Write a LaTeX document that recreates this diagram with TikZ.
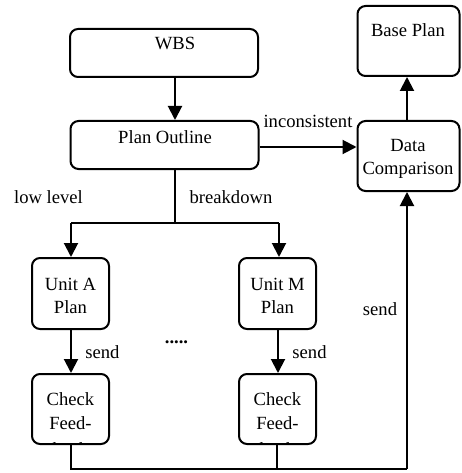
\documentclass[tikz,border=0pt]{standalone}
\usepackage{fontspec}
\setmainfont{Liberation Serif}
\usetikzlibrary{arrows.meta}
\begin{document}
\begin{tikzpicture}[x=1pt,y=-1pt,
  box/.style={draw,line width=2pt,rounded corners=8pt,inner sep=0pt},
  txt/.style={anchor=base,inner sep=0pt,font=\fontsize{18.6}{22}\selectfont},
  lnk/.style={line width=2pt},
  arr/.style={line width=2pt,-{Triangle[length=14pt,width=14pt]}}]
\useasboundingbox (0,0) rectangle (461,473);
% clipped third lines of the feedback boxes
\begin{scope}
\clip (33,375) rectangle (108,443);
\node[txt] (tca3) at (70.5,455) {back};
\end{scope}
\begin{scope}
\clip (240,375) rectangle (315,443);
\node[txt] (tcm3) at (277.5,455) {back};
\end{scope}
% boxes
\node[box,minimum width=188pt,minimum height=48pt] (wbs) at (164,53) {};
\node[box,minimum width=188pt,minimum height=48pt] (po) at (164.5,145) {};
\node[box,minimum width=102pt,minimum height=70pt] (bp) at (408.5,41) {};
\node[box,minimum width=102pt,minimum height=70pt] (dc) at (408.5,156) {};
\node[box,minimum width=77pt,minimum height=71pt] (ua) at (70.5,293.5) {};
\node[box,minimum width=77pt,minimum height=71pt] (um) at (277.5,293.5) {};
\node[box,minimum width=77pt,minimum height=70pt] (ca) at (70.5,409) {};
\node[box,minimum width=77pt,minimum height=70pt] (cm) at (277.5,409) {};
% texts
\node[txt] (twbs) at (175,50) {WBS};
\node[txt] (tpo) at (165,143) {Plan Outline};
\node[txt] (tbp) at (408,37) {Base Plan};
\node[txt] (tdc1) at (408,152) {Data};
\node[txt] (tdc2) at (408,174) {Comparison};
\node[txt] (tua1) at (70.5,290) {Unit A};
\node[txt] (tua2) at (70.5,313) {Plan};
\node[txt] (tum1) at (277.5,290) {Unit M};
\node[txt] (tum2) at (277.5,313) {Plan};
\node[txt] (tca1) at (70.5,405) {Check};
\node[txt] (tca2) at (70.5,429) {Feed-};
\node[txt] (tcm1) at (277.5,405) {Check};
\node[txt] (tcm2) at (277.5,429) {Feed-};
% labels
\node[txt] (linc) at (308,128) {inconsistent};
\node[txt] (llow) at (48.5,203) {low level};
\node[txt] (lbrk) at (231,203) {breakdown};
\node[txt] (lsa) at (102.5,358) {send};
\node[txt] (lsm) at (309.5,358) {send};
\node[txt] (lsr) at (380,315) {send};
\node[txt] (ldots) at (176.5,343) {\textbf{.....}};
% coordinates
\coordinate (xw) at (175,0);
\coordinate (xd) at (407,0);
\coordinate (split) at (175,223);
\coordinate (sa) at (71,223);
\coordinate (sm) at (279,223);
\coordinate (ba) at (71,469);
\coordinate (bm) at (277,469);
\coordinate (bd) at (407,469);
% connectors
\draw[arr] (xw |- wbs.south) -- (xw |- po.north);
\draw[arr] (po.east |- 0,147) -- (dc.west |- 0,147);
\draw[arr] (xd |- dc.north) -- (xd |- bp.south);
\draw[lnk] (xw |- po.south) -- (split);
\draw[lnk] (sa) -- (sm);
\draw[arr] (sa) -- (sa |- ua.north);
\draw[arr] (sm) -- (sm |- um.north);
\draw[arr] (ua.south -| sa) -- (sa |- ca.north);
\draw[arr] (um.south -| 278,0) -- (ca.north -| 278,0);
\draw[lnk] (ca.south -| ba) -- (ba) -- (bd);
\draw[lnk] (cm.south -| bm) -- (bm);
\draw[arr] (bd) -- (xd |- dc.south);
\end{tikzpicture}
\end{document}
